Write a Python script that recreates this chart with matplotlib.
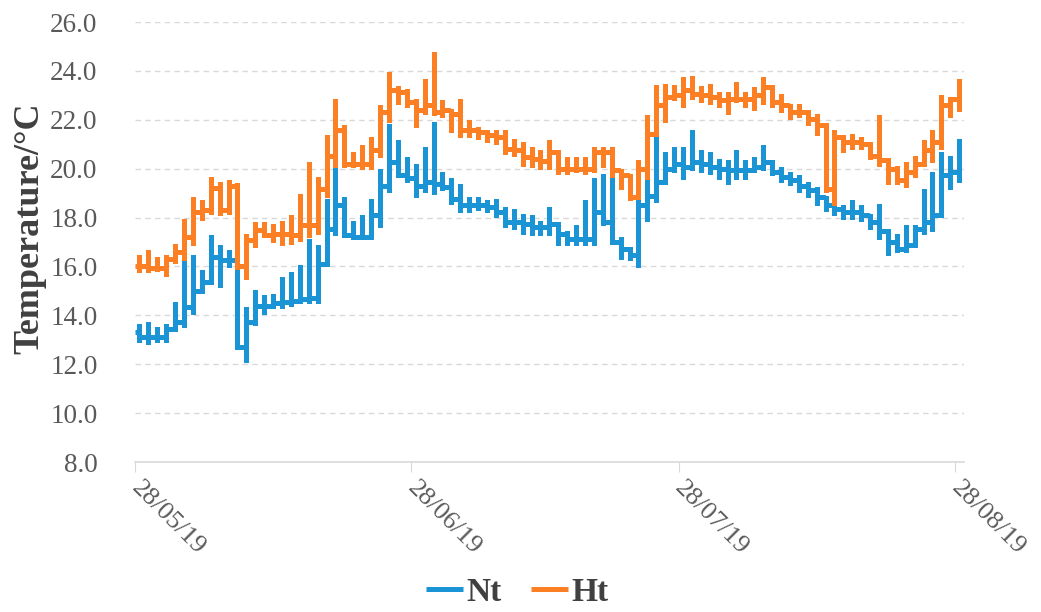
import matplotlib
matplotlib.use('Agg')
import matplotlib.pyplot as plt
import matplotlib.dates as mdates
import numpy as np
from datetime import datetime

start = datetime(2019, 5, 28)
tick_dates = ['2019-05-28', '2019-06-28', '2019-07-28', '2019-08-28']

# one reading per day: daily high, daily low, level held until the next day
nt_start = 13.3
nt_hi = [13.66, 13.72, 13.52, 13.66, 14.54, 16.25, 16.45, 15.84, 17.27, 16.86,
         16.66, 15.84, 14.34, 15.02, 14.82, 14.88, 15.56, 15.77, 16.07, 17.13,
         16.86, 18.77, 20.13, 18.84, 17.88, 18.09, 18.77, 20.0, 21.84, 21.16,
         20.47, 20.2, 20.88, 21.9, 19.86, 19.6, 19.38, 18.84, 18.84, 18.7,
         18.77, 18.43, 18.36, 18.16, 18.09, 17.88, 18.43, 17.81, 17.47, 17.68,
         18.7, 19.6, 19.79, 20.0, 17.2, 16.72, 18.7, 19.59, 21.36, 20.68,
         20.88, 20.88, 21.57, 20.75, 20.68, 20.4, 20.34, 20.75, 20.34, 20.47,
         20.95, 20.34, 20.07, 19.86, 19.73, 19.45, 19.25, 18.9, 18.56, 18.5,
         18.7, 18.5, 18.16, 18.56, 17.47, 17.34, 17.68, 17.68, 19.18, 19.86,
         20.68, 20.54, 21.23]
nt_lo = [12.9, 12.81, 12.9, 12.9, 13.45, 13.52, 14.07, 14.95, 15.43, 15.16,
         15.98, 12.63, 12.09, 13.59, 14.07, 14.3, 14.3, 14.4, 14.5, 14.5,
         14.5, 16.04, 17.27, 17.2, 17.13, 17.13, 17.13, 17.6, 19.04, 19.66,
         19.45, 18.84, 19.04, 18.97, 19.11, 18.56, 18.22, 18.22, 18.3, 18.22,
         18.02, 17.6, 17.54, 17.34, 17.27, 17.27, 17.27, 16.86, 16.86, 16.86,
         16.86, 16.86, 17.68, 16.93, 16.31, 16.25, 15.97, 17.88, 18.63, 19.79,
         19.86, 19.59, 19.93, 19.86, 19.79, 19.59, 19.38, 19.59, 19.59, 19.86,
         19.93, 19.73, 19.45, 19.32, 19.04, 18.84, 18.5, 18.29, 18.09, 17.95,
         17.95, 17.88, 17.54, 17.13, 16.45, 16.59, 16.59, 16.86, 17.34, 17.47,
         18.02, 19.18, 19.45]
nt_lvl = [13.1, 13.1, 13.1, 13.45, 13.72, 14.34, 15.0, 15.36, 16.38, 16.25,
          16.25, 12.7, 13.72, 14.4, 14.4, 14.5, 14.55, 14.6, 14.65, 14.7,
          16.1, 17.54, 18.5, 17.27, 17.2, 17.2, 18.09, 19.3, 20.27, 19.73,
          19.6, 19.3, 19.45, 19.38, 19.25, 18.77, 18.5, 18.5, 18.5, 18.43,
          18.22, 17.81, 17.81, 17.75, 17.6, 17.6, 17.75, 17.34, 17.13, 17.13,
          17.13, 18.22, 17.81, 17.0, 16.72, 16.45, 18.5, 18.9, 19.45, 20.0,
          20.2, 20.07, 20.27, 20.2, 20.07, 20.0, 19.93, 19.93, 19.93, 20.07,
          20.27, 19.86, 19.66, 19.52, 19.3, 19.11, 18.84, 18.5, 18.36, 18.22,
          18.22, 18.09, 17.81, 17.47, 17.0, 16.72, 16.86, 17.54, 17.81, 18.09,
          19.73, 19.86, 19.6]

ht_start = 16.0
ht_hi = [16.45, 16.66, 16.4, 16.45, 16.93, 17.95, 18.84, 18.7, 19.66, 19.45,
         19.55, 19.4, 17.34, 17.82, 17.82, 17.75, 17.88, 18.09, 18.97, 20.27,
         19.66, 21.36, 22.86, 21.77, 20.68, 20.95, 21.3, 22.6, 23.95, 23.4,
         23.27, 22.86, 23.68, 24.77, 22.8, 22.45, 22.86, 21.98, 21.7, 21.57,
         21.57, 21.57, 21.2, 21.09, 20.88, 20.75, 21.16, 20.68, 20.47, 20.47,
         20.47, 20.88, 20.88, 20.88, 20.0, 19.79, 20.34, 22.18, 23.41, 23.48,
         23.41, 23.75, 23.8, 23.4, 23.48, 23.13, 23.13, 23.55, 23.13, 23.34,
         23.75, 23.34, 23.07, 22.66, 22.66, 22.3, 22.25, 21.77, 21.57, 21.36,
         21.43, 21.3, 21.09, 22.18, 20.34, 20.13, 20.27, 20.54, 21.16, 21.57,
         23.0, 22.93, 23.68]
ht_lo = [15.77, 15.77, 15.8, 15.63, 16.14, 16.25, 16.86, 17.9, 18.16, 18.1,
         18.15, 15.9, 15.5, 16.8, 17.2, 17.0, 16.86, 16.93, 17.06, 17.2,
         17.34, 18.84, 20.07, 20.07, 20.07, 20.0, 20.0, 20.47, 21.9, 22.66,
         22.52, 21.7, 22.25, 22.18, 22.1, 21.5, 21.3, 21.3, 21.2, 21.09,
         21.0, 20.6, 20.54, 20.13, 20.07, 20.0, 20.0, 19.79, 19.79, 19.86,
         19.79, 19.86, 20.07, 19.66, 19.18, 18.7, 18.77, 19.59, 21.36, 21.9,
         22.8, 22.52, 22.86, 22.73, 22.66, 22.52, 22.25, 22.73, 22.52, 22.4,
         22.66, 22.52, 22.3, 22.04, 22.1, 21.77, 21.36, 19.04, 18.5, 20.68,
         20.82, 20.82, 20.41, 20.13, 19.38, 19.38, 19.25, 19.66, 20.13, 20.27,
         20.82, 22.1, 22.38]
ht_lvl = [16.0, 15.93, 15.93, 16.3, 16.6, 17.2, 18.23, 18.3, 19.2, 18.3,
          19.3, 16.04, 17.07, 17.48, 17.27, 17.34, 17.34, 17.27, 17.68, 17.68,
          19.18, 20.54, 21.57, 20.2, 20.2, 20.2, 20.75, 22.3, 23.2, 23.14,
          22.73, 22.4, 22.6, 22.3, 22.4, 22.25, 21.57, 21.57, 21.5, 21.36,
          21.3, 20.82, 20.75, 20.47, 20.4, 20.3, 20.68, 20.0, 20.0, 20.0,
          20.0, 20.68, 20.68, 19.93, 19.73, 18.84, 20.0, 21.43, 22.6, 22.93,
          23.0, 23.2, 23.07, 23.0, 22.93, 22.8, 22.86, 22.86, 22.86, 23.0,
          23.34, 22.73, 22.6, 22.3, 22.3, 22.04, 21.77, 19.18, 21.3, 21.09,
          21.09, 21.02, 20.54, 20.34, 20.0, 19.52, 19.86, 20.2, 20.75, 21.09,
          22.6, 22.86, 22.5]


def build_path(first, hi, lo, lvl):
    """Turn daily readings into the x/y of a stepped line with daily bars."""
    t0 = mdates.date2num(start)
    xs, ys = [t0], [first]
    prev = first
    for k in range(len(hi)):
        t = t0 + k + 0.5
        xs += [t, t, t, t]
        ys += [prev, hi[k], lo[k], lvl[k]]
        prev = lvl[k]
    return xs, ys


plt.rcParams['font.family'] = ['Liberation Serif', 'DejaVu Serif']

fig = plt.figure(figsize=(10.41, 6.12), dpi=100)
ax = fig.add_axes([0.1297, 0.245, 0.796, 0.719])

grey = '#595959'
blue = '#1b94d5'
orange = '#fd7f23'

x, y = build_path(nt_start, nt_hi, nt_lo, nt_lvl)
ax.plot(x, y, color=blue, lw=3.6, solid_joinstyle='miter', solid_capstyle='butt', label='Nt')
x, y = build_path(ht_start, ht_hi, ht_lo, ht_lvl)
ax.plot(x, y, color=orange, lw=3.6, solid_joinstyle='miter', solid_capstyle='butt', label='Ht')

ax.set_ylim(8, 26)
ax.set_yticks(np.arange(8, 26.1, 2))
ax.yaxis.set_major_formatter(matplotlib.ticker.FormatStrFormatter('%.1f'))
ax.set_xlim(mdates.date2num(start), mdates.date2num(start) + 93)
ax.set_xticks([mdates.date2num(datetime.strptime(d, '%Y-%m-%d')) for d in tick_dates])
ax.xaxis.set_major_formatter(mdates.DateFormatter('%d/%m/%y'))

ax.grid(axis='y', color='#d9d9d9', linestyle=(0, (4, 3)), lw=1)
ax.set_axisbelow(True)
for s in ['left', 'right', 'top']:
    ax.spines[s].set_visible(False)
ax.spines['bottom'].set_color('#d9d9d9')
ax.spines['bottom'].set_linewidth(1.2)

ax.tick_params(axis='y', length=0, labelsize=19.5, labelcolor=grey, pad=27)
ax.tick_params(axis='x', length=7, color='#d9d9d9', labelsize=19, labelcolor=grey, pad=9)
for lab in ax.get_xticklabels():
    lab.set_rotation(-45)
    lab.set_ha('left')
    lab.set_va('center')
    lab.set_rotation_mode('anchor')

ax.set_ylabel('Temperature/°C', fontsize=26, fontweight='bold', color='#404040')
ax.yaxis.set_label_coords(-0.1065, 0.532)

fig.legend(loc='center', bbox_to_anchor=(0.497, 0.032), ncol=2, frameon=False,
           prop={'size': 24, 'weight': 'bold'}, labelcolor='#404040',
           handlelength=1.1, handletextpad=0.1, columnspacing=0.9,
           borderpad=0.2)

fig.savefig('out.png', dpi=100)
